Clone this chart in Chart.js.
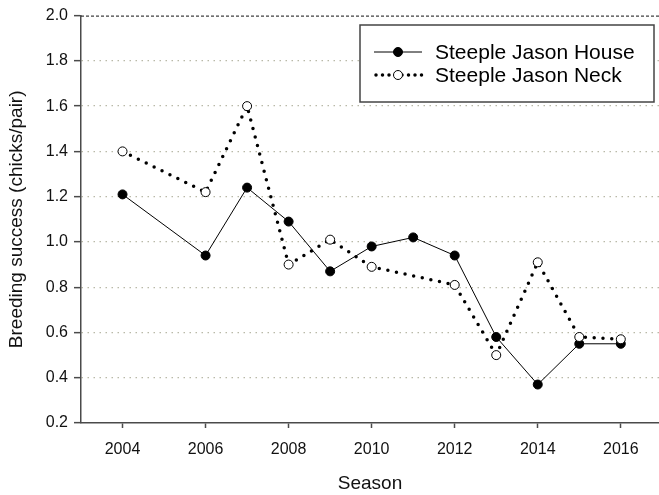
<!DOCTYPE html>
<html>
<head>
<meta charset="utf-8">
<script src="https://cdn.jsdelivr.net/npm/chart.js@4/dist/chart.umd.min.js"></script>
<style>
  html, body { margin: 0; padding: 0; background: #fff; }
  #wrap { width: 659px; height: 495px; position: relative; }
</style>
</head>
<body>
<div id="wrap"><canvas id="c" width="659" height="495"></canvas></div>
<script>
// Breeding seasons with observations
const seasons = [2004, 2006, 2007, 2008, 2009, 2010, 2011, 2012, 2013, 2014, 2015, 2016];
// Breeding success (chicks/pair) per colony; null = no survey that season
const houseSuccess = [1.21, 0.94, 1.24, 1.09, 0.87, 0.98, 1.02, 0.94, 0.58, 0.37, 0.55, 0.55];
const neckSuccess  = [1.40, 1.22, 1.60, 0.90, 1.01, 0.89, null, 0.81, 0.50, 0.91, 0.58, 0.57];
const seriesNames = ['Steeple Jason House', 'Steeple Jason Neck'];
const xTickValues = [2004, 2006, 2008, 2010, 2012, 2014, 2016];
const yTickValues = [0.2, 0.4, 0.6, 0.8, 1.0, 1.2, 1.4, 1.6, 1.8, 2.0];

const FONT = '"Liberation Sans", Arial, sans-serif';
const AXIS = '#4a4a4a';

const toPoints = vals => seasons.map((s, i) => ({ x: s, y: vals[i] }));

// Dashed frame line along the top of the plot and a boxed legend
const decorations = {
  id: 'decorations',
  afterDatasetsDraw(chart) {
    const { ctx, chartArea, scales } = chart;
    const yTop = scales.y.getPixelForValue(2.0);
    ctx.save();
    ctx.strokeStyle = '#111';
    ctx.lineWidth = 1;
    ctx.setLineDash([3, 2]);
    ctx.beginPath();
    ctx.moveTo(chartArea.left, yTop + 0.5);
    ctx.lineTo(chartArea.right, yTop + 0.5);
    ctx.stroke();
    ctx.setLineDash([]);

    // legend box
    const bx = 360, by = 25, bw = 294, bh = 77;
    ctx.fillStyle = '#fff';
    ctx.fillRect(bx, by, bw, bh);
    ctx.strokeStyle = '#444';
    ctx.lineWidth = 1.5;
    ctx.strokeRect(bx, by, bw, bh);

    const rows = [52, 75];
    const x0 = 374, x1 = 422, xm = 398;
    ctx.font = '21px ' + FONT;
    ctx.textBaseline = 'middle';
    ctx.textAlign = 'left';
    chart.data.datasets.forEach((ds, i) => {
      const y = rows[i];
      ctx.strokeStyle = '#000';
      ctx.lineWidth = ds.borderWidth;
      ctx.lineCap = ds.borderCapStyle || 'butt';
      ctx.setLineDash(i === 0 ? [] : [0, 6.5]);
      ctx.beginPath();
      if (i === 0) {
        ctx.moveTo(x0, y); ctx.lineTo(x1, y);
      } else {
        ctx.moveTo(x0 + 2, y); ctx.lineTo(x1, y);
      }
      ctx.stroke();
      ctx.setLineDash([]);
      ctx.lineCap = 'butt';
      ctx.beginPath();
      ctx.arc(xm, y, ds.pointRadius, 0, Math.PI * 2);
      ctx.fillStyle = ds.pointBackgroundColor;
      ctx.fill();
      ctx.lineWidth = 1;
      ctx.strokeStyle = '#000';
      ctx.stroke();
      ctx.fillStyle = '#000';
      ctx.fillText(ds.label, 435, y + 1);
    });
    ctx.restore();
  }
};

new Chart(document.getElementById('c'), {
  type: 'line',
  data: {
    datasets: [
      {
        label: seriesNames[0],
        data: toPoints(houseSuccess),
        borderColor: '#000',
        borderWidth: 1,
        pointRadius: 4.5,
        pointBackgroundColor: '#000',
        pointBorderColor: '#000',
        pointBorderWidth: 1,
        tension: 0,
        order: 2
      },
      {
        label: seriesNames[1],
        data: toPoints(neckSuccess),
        borderColor: '#000',
        borderWidth: 3.5,
        borderDash: [0, 8.8],
        borderCapStyle: 'round',
        pointRadius: 4.5,
        pointBackgroundColor: '#fff',
        pointBorderColor: '#000',
        pointBorderWidth: 1,
        spanGaps: true,
        tension: 0,
        order: 1
      }
    ]
  },
  options: {
    responsive: false,
    animation: false,
    events: [],
    layout: { autoPadding: false, padding: { top: 15, right: 0, left: 0, bottom: 0 } },
    plugins: { legend: { display: false }, tooltip: { enabled: false } },
    scales: {
      x: {
        type: 'linear',
        min: 2003,
        max: 2016.92,
        afterBuildTicks: s => { s.ticks = xTickValues.map(v => ({ value: v })); },
        afterFit: s => { s.height = 72; },
        ticks: {
          callback: v => String(v),
          font: { family: FONT, size: 16 },
          color: '#111',
          padding: 12,
          maxRotation: 0,
          autoSkip: false
        },
        grid: { drawOnChartArea: false, drawTicks: true, tickLength: 5, tickColor: AXIS, tickWidth: 1.5 },
        border: { color: AXIS, width: 1.5 },
        title: {
          display: true,
          text: 'Season',
          font: { family: FONT, size: 19 },
          color: '#111',
          padding: { top: 0, bottom: 0 }
        }
      },
      y: {
        min: 0.2,
        max: 2.0,
        afterBuildTicks: s => { s.ticks = yTickValues.map(v => ({ value: v })); },
        afterFit: s => { s.width = 81; },
        ticks: {
          callback: v => Number(v).toFixed(1),
          font: { family: FONT, size: 16 },
          color: '#111',
          padding: 6
        },
        grid: {
          drawOnChartArea: true,
          tickLength: 7,
          tickColor: AXIS,
          tickWidth: 1.5,
          lineWidth: 1.3,
          color: ctx => (ctx.tick && (Math.abs(ctx.tick.value - 2.0) < 1e-6 || Math.abs(ctx.tick.value - 0.2) < 1e-6)) ? 'rgba(0,0,0,0)' : '#b9b9a8'
        },
        border: { color: AXIS, width: 1.5, dash: [1.5, 4.5] },
        title: {
          display: true,
          text: 'Breeding success (chicks/pair)',
          font: { family: FONT, size: 19 },
          color: '#111',
          padding: { top: 5, bottom: 0 }
        }
      }
    }
  },
  plugins: [decorations]
});
</script>
</body>
</html>
